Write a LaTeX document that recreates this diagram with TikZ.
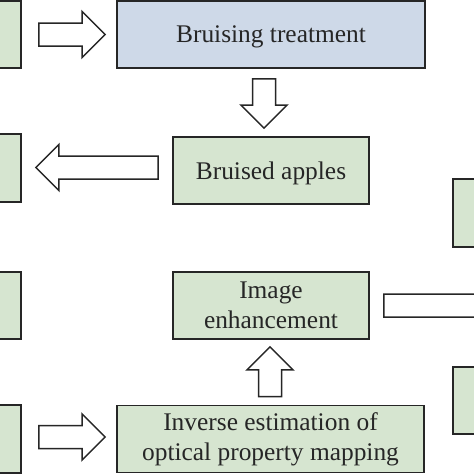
\documentclass[tikz,border=0pt]{standalone}
\usepackage{fontspec}
\setmainfont{Liberation Serif}
\usetikzlibrary{calc}
\definecolor{boxgreen}{RGB}{214,229,208}
\definecolor{boxblue}{RGB}{206,217,232}
\definecolor{edge}{RGB}{38,38,38}
\tikzset{
  box/.style={draw=edge, line width=1.7pt, text=edge, align=center,
    font=\fontsize{25.4}{30}\selectfont},
  greenbox/.style={box, fill=boxgreen},
  bluebox/.style={box, fill=boxblue},
  oneline/.style={text depth=0pt},
  fatarrow/.style={draw=edge, line width=1.5pt, fill=white, line join=miter}
}
% hollow block arrow: #1 tail, #2 tip
\newcommand\blockarrow[2]{%
  \coordinate (ba-s) at #1;
  \coordinate (ba-t) at #2;
  \coordinate (ba-h) at ($(ba-t)!23pt!(ba-s)$);
  \draw[fatarrow] ($(ba-s)!11.5pt!90:(ba-t)$) -- ($(ba-h)!11.5pt!-90:(ba-s)$)
    -- ($(ba-h)!23pt!-90:(ba-s)$) -- (ba-t) -- ($(ba-h)!23pt!90:(ba-s)$)
    -- ($(ba-h)!11.5pt!90:(ba-s)$) -- ($(ba-s)!11.5pt!-90:(ba-t)$) -- cycle;}
\begin{document}
\begin{tikzpicture}[x=1pt,y=-1pt]
    \useasboundingbox (0,0) rectangle (474,474);
    \clip (0,0) rectangle (474,474);
    % boxes
    \node[bluebox, oneline, minimum width=308, minimum height=67] (treat) at (271,34.5) {Bruising treatment};
    \node[greenbox, oneline, minimum width=196, minimum height=67] (apples) at (271,170.5) {Bruised apples};
    \node[greenbox, minimum width=196, minimum height=67] (enhance) at (271,305.5) {Image\\enhancement};
    \node[greenbox, minimum width=307, minimum height=67] (inverse) at (270.5,439) {Inverse estimation of\\optical property mapping};
    \node[greenbox, minimum width=150, minimum height=67] (lbA) at (-54,34.5) {};
    \node[greenbox, minimum width=150, minimum height=68] (lbB) at (-54,168) {};
    \node[greenbox, minimum width=150, minimum height=67] (lbC) at (-54,305.5) {};
    \node[greenbox, minimum width=150, minimum height=68] (lbD) at (-54,439) {};
    \node[greenbox, minimum width=150, minimum height=68] (rbA) at (528,213) {};
    \node[greenbox, minimum width=150, minimum height=67] (rbB) at (528,400.5) {};
    \coordinate (out) at (560,305.5);
    % arrows
    \blockarrow{($(lbA.east)+(17,0)$)}{($(treat.west)+(-11,0)$)}
    \blockarrow{($(treat.south)+(-7,10)$)}{($(apples.north)+(-7,-8)$)}
    \blockarrow{($(apples.west)+(-14,-3)$)}{($(lbB.east)+(14,-0.5)$)}
    \blockarrow{($(enhance.east)+(14,0)$)}{(out)}
    \blockarrow{($(inverse.north)+(-0.5,-8)$)}{($(enhance.south)+(-1,7)$)}
    \blockarrow{($(lbD.east)+(17,-2)$)}{($(inverse.west)+(-11,-2)$)}
\end{tikzpicture}
\end{document}
